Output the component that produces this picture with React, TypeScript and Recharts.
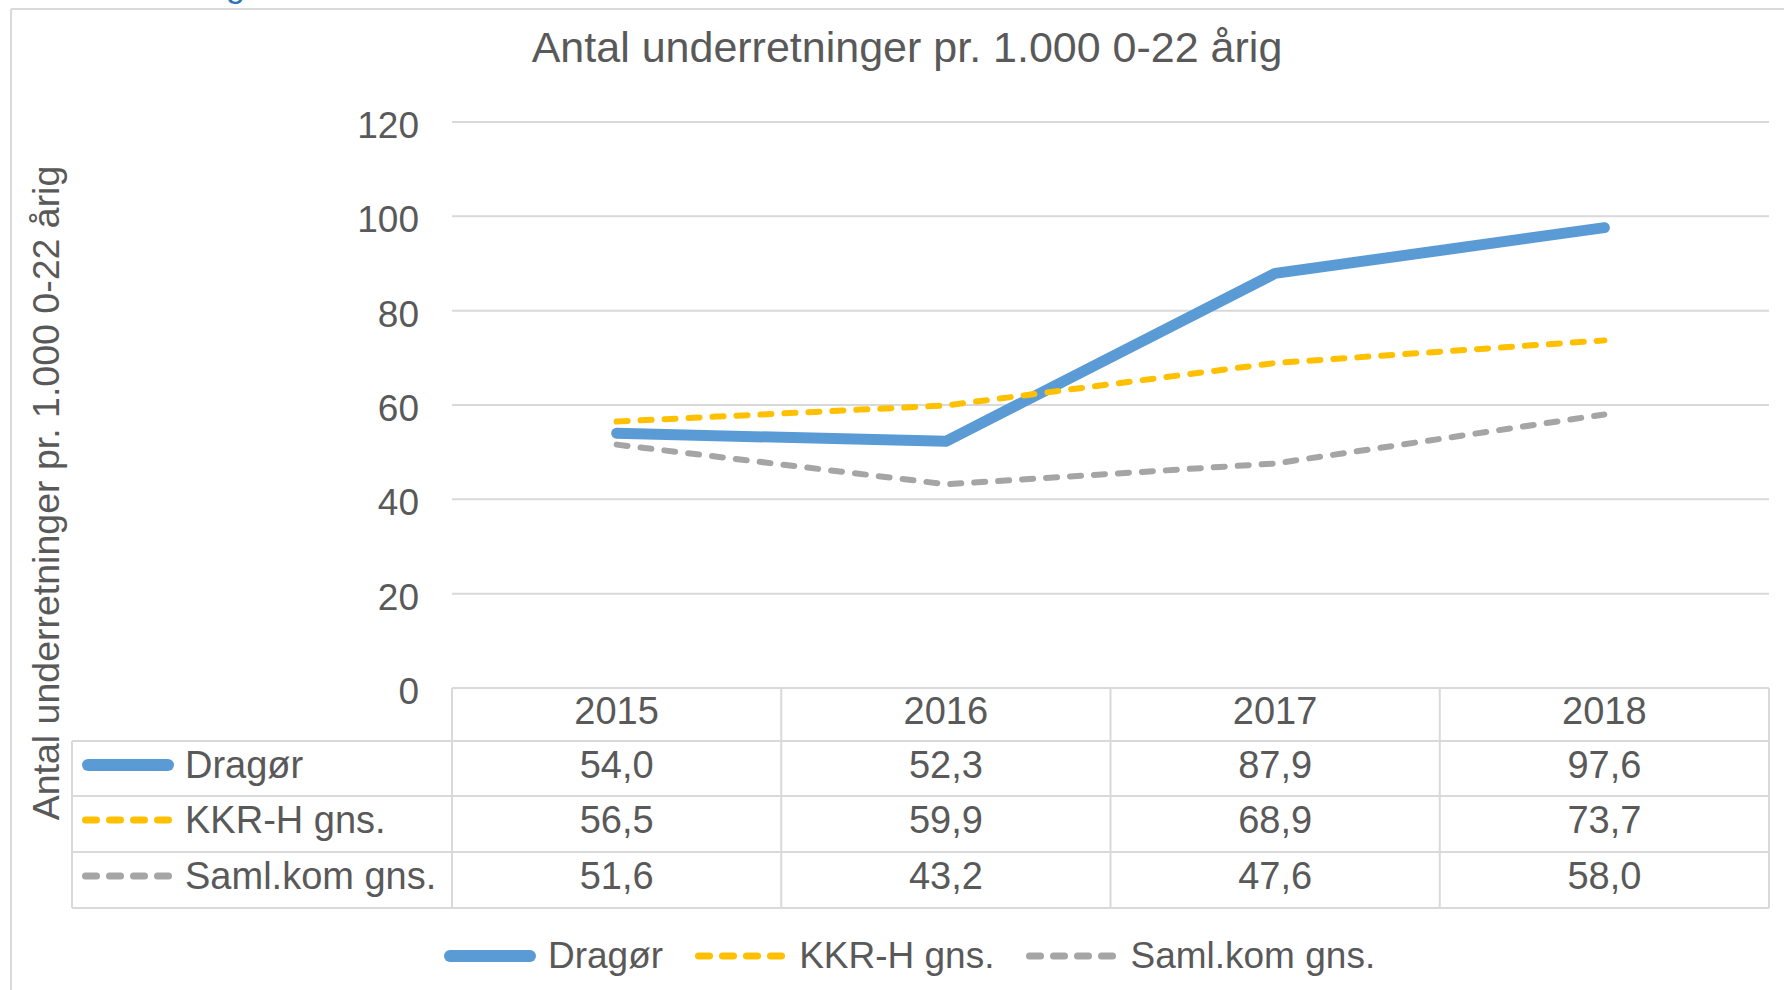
import React from "react"
import { LineChart, Line, XAxis, YAxis, CartesianGrid, Legend } from "recharts"

const years = ["2015", "2016", "2017", "2018"]
const dragor = [54.0, 52.3, 87.9, 97.6]
const kkrh = [56.5, 59.9, 68.9, 73.7]
const samlkom = [51.6, 43.2, 47.6, 58.0]
const yTicks = [0, 20, 40, 60, 80, 100, 120]

const title = "Antal underretninger pr. 1.000 0-22 årig"
const axisTitle = "Antal underretninger pr. 1.000 0-22 årig"

const series = [
  { key: "dragor", name: "Dragør", color: "#5b9bd5", width: 11, keyWidth: 12, dash: undefined as string | undefined, values: dragor },
  { key: "kkrh", name: "KKR-H gns.", color: "#ffc000", width: 6, keyWidth: 7, dash: "11 13", values: kkrh },
  { key: "samlkom", name: "Saml.kom gns.", color: "#a5a5a5", width: 6, keyWidth: 7, dash: "11 13", values: samlkom },
]

const data = years.map((year, i) => ({
  year,
  dragor: dragor[i],
  kkrh: kkrh[i],
  samlkom: samlkom[i],
}))

// layout of the data table under the plot
const FONT = "'Liberation Sans', Arial, sans-serif"
const TEXT = "#595959"
const GRID = "#d9d9d9"
const PLOT_LEFT = 452
const PLOT_RIGHT = 1769
const TABLE_LEFT = 72
const TABLE_TOP = 688
const ROW_LINES = [741, 796, 852, 908]
const ROW_TEXT = [765, 820, 876]
const HEADER_TEXT = 711
const COL_W = (PLOT_RIGHT - PLOT_LEFT) / years.length

const fmt = (v: number) => v.toFixed(1).replace(".", ",")

function TableColumn(props: any) {
  const { x, payload, index } = props
  const i = years.indexOf(payload.value)
  const half = COL_W / 2
  return (
    <g>
      <line x1={x - half} x2={x - half} y1={TABLE_TOP} y2={ROW_LINES[3]} stroke={GRID} strokeWidth={2} />
      {index === years.length - 1 && (
        <line x1={x + half} x2={x + half} y1={TABLE_TOP} y2={ROW_LINES[3]} stroke={GRID} strokeWidth={2} />
      )}
      <text x={x} y={HEADER_TEXT} textAnchor="middle" dominantBaseline="central" fontSize={38} fill={TEXT} fontFamily={FONT}>
        {payload.value}
      </text>
      {series.map((s, r) => (
        <text key={s.key} x={x} y={ROW_TEXT[r]} textAnchor="middle" dominantBaseline="central" fontSize={38} fill={TEXT} fontFamily={FONT}>
          {fmt(s.values[i])}
        </text>
      ))}
    </g>
  )
}

function YTick(props: any) {
  const { x, y, payload } = props
  return (
    <text x={x} y={y + 3.5} textAnchor="end" dominantBaseline="central" fontSize={37} fill={TEXT} fontFamily={FONT}>
      {payload.value}
    </text>
  )
}

function KeySample({ s, x, y }: { s: (typeof series)[number]; x: number; y: number }) {
  const cap = s.keyWidth / 2
  return (
    <line
      x1={x + cap}
      x2={x + 92 - cap}
      y1={y}
      y2={y}
      stroke={s.color}
      strokeWidth={s.keyWidth}
      strokeDasharray={s.dash}
      strokeLinecap="round"
    />
  )
}

function LegendContent() {
  return (
    <div style={{ display: "flex", alignItems: "center", fontFamily: FONT, fontSize: 37, color: TEXT, height: 44 }}>
      {series.map((s, i) => (
        <div key={s.key} style={{ display: "flex", alignItems: "center", marginLeft: i === 0 ? 0 : 31 }}>
          <svg width={94} height={16} style={{ display: "block" }}>
            <KeySample s={s} x={1} y={8} />
          </svg>
          <span style={{ marginLeft: 11, whiteSpace: "nowrap" }}>{s.name}</span>
        </div>
      ))}
    </div>
  )
}

export default function App() {
  return (
    <div style={{ position: "absolute", left: 0, top: 0, width: 1784, height: 990, background: "#fff", overflow: "hidden" }}>
      <LineChart width={1784} height={990} data={data} margin={{ top: 122, right: 15, bottom: 72, left: 352 }}>
        <CartesianGrid vertical={false} stroke={GRID} strokeWidth={2} />
        <XAxis
          dataKey="year"
          axisLine={false}
          tickLine={false}
          interval={0}
          height={230}
          padding={{ left: COL_W / 2, right: COL_W / 2 }}
          tick={<TableColumn />}
        />
        <YAxis
          width={100}
          domain={[0, 120]}
          ticks={yTicks}
          axisLine={false}
          tickLine={false}
          tickMargin={27}
          tick={<YTick />}
          label={() => (
            <text
              x={46}
              y={493}
              transform="rotate(-90, 46, 493)"
              textAnchor="middle"
              dominantBaseline="central"
              fontSize={37.5}
              fill={TEXT}
              fontFamily={FONT}
            >
              {axisTitle}
            </text>
          )}
        />
        <Legend
          layout="horizontal"
          verticalAlign="middle"
          content={<LegendContent />}
          wrapperStyle={{ position: "absolute", left: 443, top: 934, width: 960 }}
        />
        {series.map((s) => (
          <Line
            key={s.key}
            type="linear"
            dataKey={s.key}
            name={s.name}
            stroke={s.color}
            strokeWidth={s.width}
            strokeDasharray={s.dash}
            strokeLinecap="round"
            strokeLinejoin="round"
            dot={false}
            activeDot={false}
            isAnimationActive={false}
          />
        ))}
      </LineChart>
      <svg width={1784} height={990} style={{ position: "absolute", left: 0, top: 0, pointerEvents: "none" }}>
        {/* outer chart border, cut by the page edge */}
        <line x1={11} x2={11} y1={9} y2={990} stroke={GRID} strokeWidth={2} />
        <line x1={11} x2={1784} y1={9} y2={9} stroke={GRID} strokeWidth={2} />
        <text x={226} y={-3} fontSize={34} fill="#2e74b5" fontFamily={FONT}>g</text>
        <text x={907} y={62} textAnchor="middle" fontSize={43} fill={TEXT} fontFamily={FONT}>
          {title}
        </text>
        {/* data table frame */}
        {ROW_LINES.map((y) => (
          <line key={y} x1={TABLE_LEFT} x2={PLOT_RIGHT} y1={y} y2={y} stroke={GRID} strokeWidth={2} />
        ))}
        <line x1={TABLE_LEFT} x2={TABLE_LEFT} y1={ROW_LINES[0]} y2={ROW_LINES[3]} stroke={GRID} strokeWidth={2} />
        {series.map((s, r) => (
          <g key={s.key}>
            <KeySample s={s} x={82} y={ROW_TEXT[r]} />
            <text x={185} y={ROW_TEXT[r]} dominantBaseline="central" fontSize={38} fill={TEXT} fontFamily={FONT}>
              {s.name}
            </text>
          </g>
        ))}
      </svg>
    </div>
  )
}
